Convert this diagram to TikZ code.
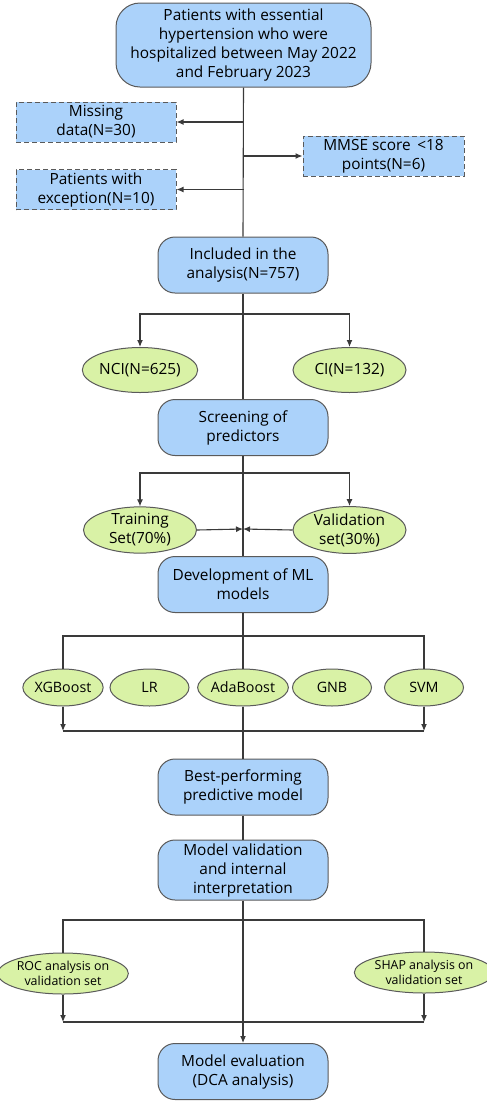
\documentclass[tikz,border=0pt]{standalone}
\usepackage{fontspec}
\setmainfont{Open Sans}
\usepackage{tikz}
\usetikzlibrary{positioning,shapes.geometric,arrows.meta}
\definecolor{boxblue}{HTML}{ABD2FA}
\definecolor{ovalgreen}{HTML}{D9F2A6}
\definecolor{edgegray}{HTML}{5A5A5A}
\definecolor{linegray}{HTML}{3A3A3A}

\begin{document}
\begin{tikzpicture}[
                x=1pt,y=-1pt,
                font=\fontsize{15.4}{19}\selectfont,
                >={Latex[length=7pt,width=6pt]},
                stage/.style={rectangle,rounded corners=17pt,draw=edgegray,line width=1pt,fill=boxblue,align=center,minimum width=170,minimum height=56,inner sep=1pt},
                excl/.style={rectangle,dash pattern=on 5pt off 3pt,draw=edgegray,line width=1pt,fill=boxblue,align=center,minimum width=160,minimum height=40,inner sep=1pt},
                group/.style={ellipse,draw=edgegray,line width=1pt,fill=ovalgreen,align=center,minimum width=113,minimum height=45,inner sep=0pt},
                model/.style={ellipse,draw=edgegray,line width=1pt,fill=ovalgreen,align=center,minimum width=79,minimum height=37,inner sep=0pt,font=\fontsize{14.3}{17}\selectfont},
                link/.style={draw=linegray,line width=1.1pt}
            ]
                \useasboundingbox (0,0) rectangle (487,1106);
                % stages
                \node[stage,rounded corners=24pt,minimum width=255,minimum height=84] (start) at (243.5,45) {Patients with essential\\hypertension who were\\hospitalized between May 2022\\and February 2023};
                \node[excl] (miss) at (96,122) {Missing\\data(N=30)};
                \node[excl,minimum width=161] (mmse) at (383.5,156) {MMSE score \,<18\\points(N=6)};
                \node[excl] (except) at (96,189.5) {Patients with\\exception(N=10)};
                \node[stage] (incl) at (243,265) {Included in the\\analysis(N=757)};
                \node[group] (nci) at (140,370) {NCI(N=625)};
                \node[group] (ci) at (349.5,370) {CI(N=132)};
                \node[stage] (screen) at (243,427.5) {Screening of\\predictors};
                \node[group,minimum height=46] (train) at (140,530) {Training\\Set(70\%)};
                \node[group,minimum height=46] (valid) at (349.5,530) {Validation\\set(30\%)};
                \node[stage] (dev) at (243,584.5) {Development of ML\\models};
                \foreach \name/\xpos/\txt in {xgb/63/XGBoost,lr/149.5/LR,ada/243/AdaBoost,gnb/332/GNB,svm/424/SVM}
                    {
                    \node[model] (\name) at (\xpos,687.5) {\txt};
                }
                \node[stage] (best) at (243,787) {Best-performing\\predictive model};
                \node[stage,minimum height=60] (mval) at (243,870) {Model validation\\and internal\\interpretation};
                \node[group,font=\fontsize{12.4}{15}\selectfont,minimum width=120,minimum height=41] (roc) at (63,973.5) {ROC analysis on\\validation set};
                \node[group,font=\fontsize{12.4}{15}\selectfont,minimum width=121,minimum height=41] (shap) at (424,972.5) {SHAP analysis on\\validation set};
                \node[stage] (meval) at (243,1071.5) {Model evaluation\\(DCA analysis)};
                % junction points
                \coordinate (split1) at (243,314);
                \coordinate (split2) at (243,473);
                \coordinate (meet2) at (243,529);
                \coordinate (split3) at (243,636);
                \coordinate (meet3) at (243,731);
                \coordinate (split4) at (243,920);
                \coordinate (meet4) at (243,1022);
                % exclusions
                \draw[link] (start.south) -- (incl.north);
                \draw[link,->] (start.south |- miss.east) -- (miss.east);
                \draw[link,->] (start.south |- mmse.west) -- (mmse.west);
                \draw[link,->] (start.south |- except.east) -- (except.east);
                % groups
                \draw[link] (incl.south) -- (screen.north);
                \draw[link,->] (split1) -| (nci.north);
                \draw[link,->] (split1) -| (ci.north);
                % split of the data
                \draw[link] (screen.south) -- (dev.north);
                \draw[link,->] (split2) -| (train.north);
                \draw[link,->] (split2) -| (valid.north);
                \draw[link,->] (train.east) -- (meet2);
                \draw[link,->] (valid.west) -- (meet2);
                % models
                \draw[link] (dev.south) -- (ada.north);
                \draw[link] (split3) -| (xgb.north);
                \draw[link] (split3) -| (svm.north);
                \draw[link,->] (xgb.south) -- (xgb.south |- meet3);
                \draw[link,->] (svm.south) -- (svm.south |- meet3);
                \draw[link] (xgb.south |- meet3) -- (svm.south |- meet3);
                \draw[link] (ada.south) -- (best.north);
                % validation
                \draw[link] (best.south) -- (mval.north);
                \draw[link,->] (mval.south) -- (meval.north);
                \draw[link] (split4) -| (roc.north);
                \draw[link] (split4) -| (shap.north);
                \draw[link,->] (roc.south) -- (roc.south |- meet4);
                \draw[link,->] (shap.south) -- (shap.south |- meet4);
                \draw[link] (roc.south |- meet4) -- (shap.south |- meet4);
            \end{tikzpicture}
\end{document}
